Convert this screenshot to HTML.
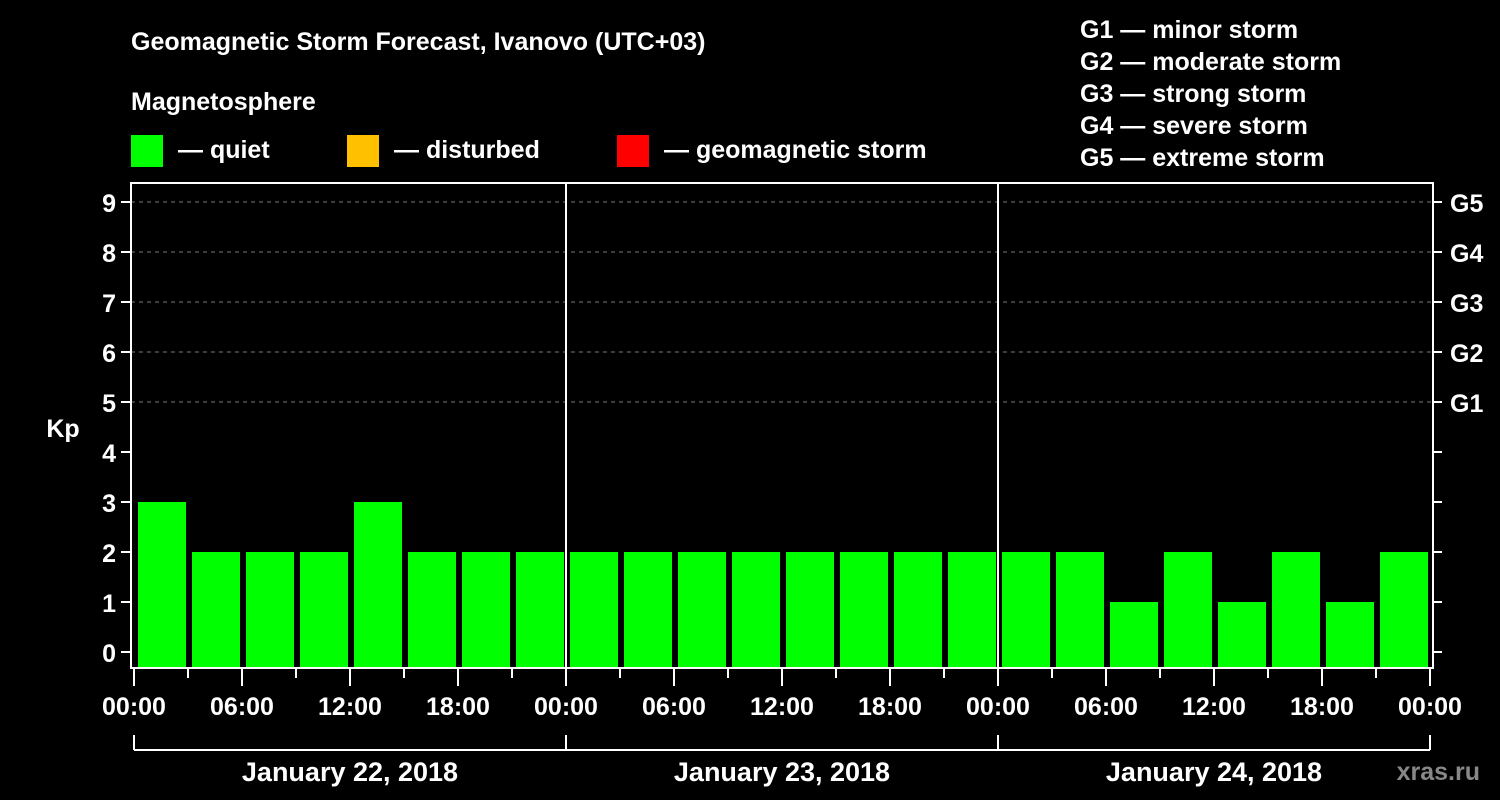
<!DOCTYPE html>
<html><head><meta charset="utf-8"><style>
body{margin:0;background:#000;width:1500px;height:800px;overflow:hidden}
svg{display:block;font-family:"Liberation Sans",Arial,sans-serif;font-weight:bold}
</style></head><body>
<svg id="chart" width="1500" height="800" viewBox="0 0 1500 800">
<rect width="1500" height="800" fill="#000"/>
<text x="131" y="50" fill="#fff" font-size="25">Geomagnetic Storm Forecast, Ivanovo (UTC+03)</text>
<text x="131" y="110" fill="#fff" font-size="25">Magnetosphere</text>
<g><rect x="131" y="135" width="32" height="32" fill="#00ff00"/><text x="178" y="158" fill="#fff" font-size="25">— quiet</text></g>
<g><rect x="347" y="135" width="32" height="32" fill="#ffc000"/><text x="394" y="158" fill="#fff" font-size="25">— disturbed</text></g>
<g><rect x="617" y="135" width="32" height="32" fill="#ff0000"/><text x="664" y="158" fill="#fff" font-size="25">— geomagnetic storm</text></g>
<g fill="#fff" font-size="25">
<text x="1080" y="38">G1 — minor storm</text>
<text x="1080" y="70">G2 — moderate storm</text>
<text x="1080" y="102">G3 — strong storm</text>
<text x="1080" y="134">G4 — severe storm</text>
<text x="1080" y="166">G5 — extreme storm</text>
</g>
<text x="63" y="437" fill="#fff" font-size="25" text-anchor="middle">Kp</text>
<g id="grid"></g><g id="bars"></g><g id="axes"></g>
<text x="1480" y="780" fill="#888" font-size="25" text-anchor="end">xras.ru</text>
</svg>
<script>
const kpValues=[3,2,2,2,3,2,2,2, 2,2,2,2,2,2,2,2, 2,2,1,2,1,2,1,2];
const yTicks=[0,1,2,3,4,5,6,7,8,9];
const gLabels=["G1","G2","G3","G4","G5"];
const gLevels=[5,6,7,8,9];
const timeLabels=["00:00","06:00","12:00","18:00","00:00","06:00","12:00","18:00","00:00","06:00","12:00","18:00","00:00"];
const dayLabels=["January 22, 2018","January 23, 2018","January 24, 2018"];
const NS="http://www.w3.org/2000/svg";
const X0=134,X1=1430,L=131,R=1433,T=183,B=668;
const nBars=kpValues.length;
function x(i){return X0+(X1-X0)*i/nBars;}
function y(v){return 652-50*v;}
function mk(p,tag,a){const e=document.createElementNS(NS,tag);for(const k in a)e.setAttribute(k,a[k]);p.appendChild(e);return e;}
const grid=document.getElementById('grid'),bars=document.getElementById('bars'),axes=document.getElementById('axes');
gLevels.forEach((v,i)=>{
 const l=mk(grid,'line',{x1:L,x2:R,y1:y(v),y2:y(v),stroke:'#777','stroke-dasharray':'4,4','stroke-width':1});
 
 
 const t=mk(axes,'text',{x:1450,y:y(v)+10,fill:'#fff','font-size':25});t.textContent=gLabels[i];
 
 
});
kpValues.forEach((v,i)=>{
 const c=v>=5?'#ff0000':(v>=4?'#ffc000':'#00ff00');
 const r=mk(bars,'rect',{x:x(i)+4,y:y(v),width:(X1-X0)/nBars-6,height:B-y(v),fill:c});
 
 
});
const W={stroke:'#fff','stroke-width':2};
mk(axes,'rect',{x:L,y:T,width:R-L,height:B-T,fill:'none',stroke:'#fff','stroke-width':2});
[1,2].forEach(d=>{const xx=x(d*8);mk(axes,'line',Object.assign({x1:xx,x2:xx,y1:T,y2:B},W));});
yTicks.forEach(v=>{
 mk(axes,'line',Object.assign({x1:121,x2:L,y1:y(v),y2:y(v)},W));
 mk(axes,'line',Object.assign({x1:R,x2:1442,y1:y(v),y2:y(v)},W));
 const t=mk(axes,'text',{x:116,y:y(v)+10,fill:'#fff','font-size':25,'text-anchor':'end'});t.textContent=v;
 
 
});
for(let i=0;i<=nBars;i++){
 const xx=x(i),major=i%2===0;
 mk(axes,'line',Object.assign({x1:xx,x2:xx,y1:B,y2:major?686:678},W));
 if(major){const t=mk(axes,'text',{x:xx,y:715,fill:'#fff','font-size':25,'text-anchor':'middle'});t.textContent=timeLabels[i/2];
 
 }
}
mk(axes,'line',Object.assign({x1:X0,x2:X1,y1:750,y2:750},W));
for(let d=0;d<=3;d++){const xx=x(d*8);mk(axes,'line',Object.assign({x1:xx,x2:xx,y1:735,y2:750},W));}
dayLabels.forEach((s,d)=>{const t=mk(axes,'text',{x:(x(d*8)+x(d*8+8))/2,y:781,fill:'#fff','font-size':27,'text-anchor':'middle'});t.textContent=s;
 
 });
</script>
</body></html>
